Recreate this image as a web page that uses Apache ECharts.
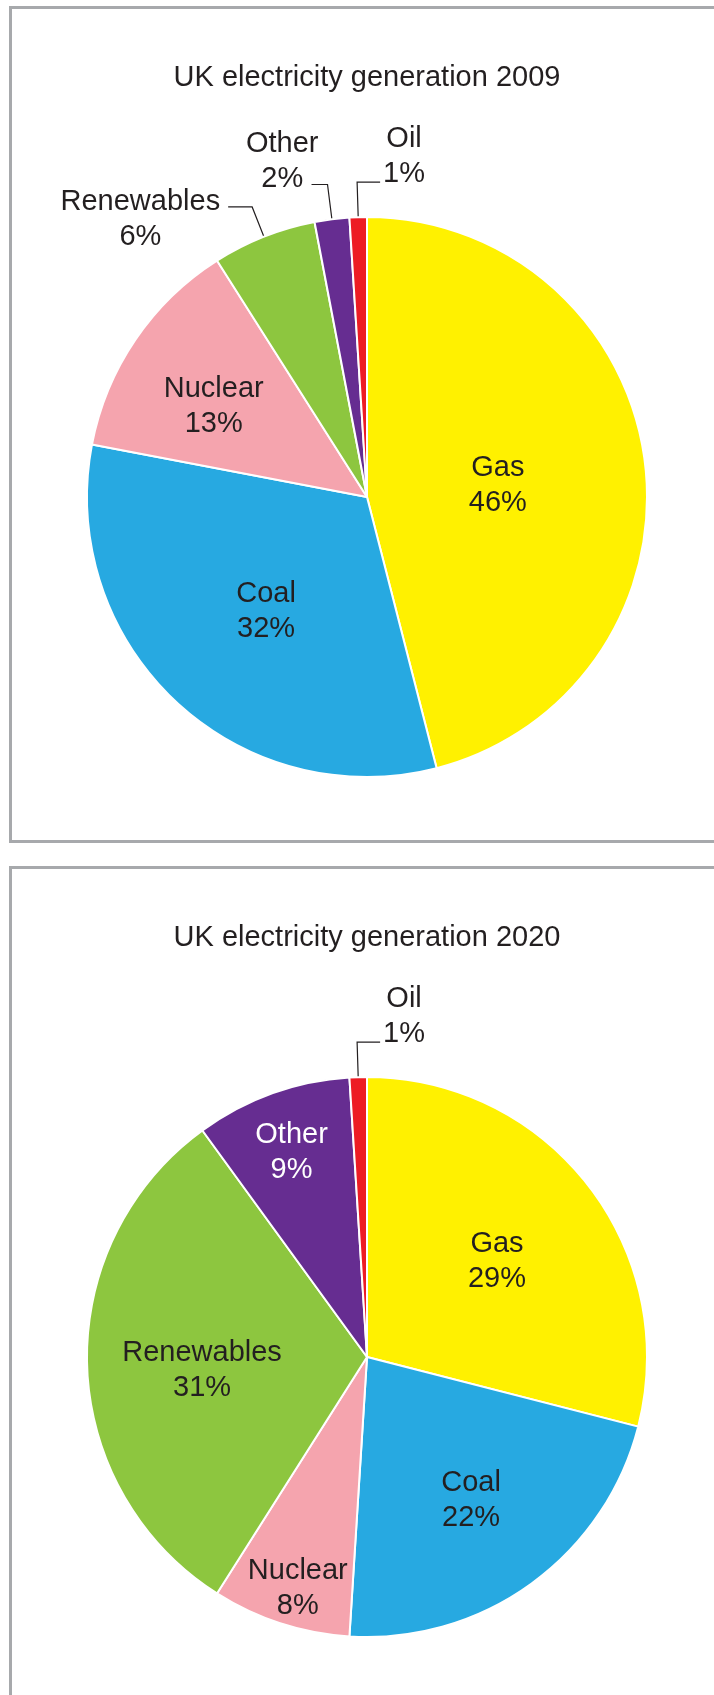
<!DOCTYPE html>
<html><head><meta charset="utf-8">
<script src="https://cdn.jsdelivr.net/npm/echarts@6/dist/echarts.min.js"></script>
<style>
html,body{margin:0;padding:0;background:#fff;overflow:hidden;width:714px;height:1695px;}
.box{position:absolute;border:3px solid #a7a9ac;box-sizing:border-box;}
#b1{left:8.5px;top:6px;width:800px;height:836.5px;}
#b2{left:8.5px;top:866px;width:800px;height:1000px;}
#chart{position:absolute;left:0;top:0;width:714px;height:1695px;}
</style></head><body>
<div class="box" id="b1"></div><div class="box" id="b2"></div>
<div id="chart"></div>
<script>
// ---- data ----
const years = ['2009', '2020'];
const titles = ['UK electricity generation 2009', 'UK electricity generation 2020'];
const sources = ['Gas', 'Coal', 'Nuclear', 'Renewables', 'Other', 'Oil'];
const share2009 = [46, 32, 13, 6, 2, 1];
const share2020 = [29, 22, 8, 31, 9, 1];

// ---- styles ----
const FONT = 'Liberation Sans, Arial, Helvetica, sans-serif';
const INK = '#231f20';
const colors = {Gas:'#fff100', Coal:'#27a9e1', Nuclear:'#f5a4ae', Renewables:'#8dc63f', Other:'#662d91', Oil:'#ed1c24'};
const labelCfg = {
  '2009': {
    Gas:{nudge:[-11, 6.5]}, Coal:{nudge:[-3, 10]}, Nuclear:{nudge:[-35, -10]},
    Renewables:{out:{len:32, len2:24, dist:8}, spacer:'top', sp:25},
    Other:{out:{len:35, len2:16, dist:-7}, spacer:'bottom', sp:45},
    Oil:{out:{len:35, len2:23, dist:3}, spacer:'bottom', sp:39, flip:true}
  },
  '2020': {
    Gas:{nudge:[17, -8]}, Coal:{nudge:[20, 28]}, Nuclear:{nudge:[-25, 95]},
    Renewables:{nudge:[-22, 9]}, Other:{nudge:[-27, -70], white:true},
    Oil:{out:{len:35, len2:23, dist:3}, spacer:'bottom', sp:39, flip:true}
  }
};
const panelCenters = [[367, 497], [367, 1357]];
const panelTitleTop = [63, 923];

const rich = {
  t:{fontFamily:FONT, fontSize:29, lineHeight:35, color:INK, align:'center', textBorderWidth:0},
  w:{fontFamily:FONT, fontSize:29, lineHeight:35, color:'#ffffff', align:'center', textBorderWidth:0},
  s25:{fontSize:8, lineHeight:25, align:'center'},
  s39:{fontSize:8, lineHeight:39, align:'center'},
  s45:{fontSize:8, lineHeight:45, align:'center'}
};

function makeSeries(pi) {
  const year = years[pi];
  const values = pi === 0 ? share2009 : share2020;
  const cfgs = labelCfg[year];
  return {
    type:'pie', center:panelCenters[pi], radius:280, startAngle:90, clockwise:true,
    avoidLabelOverlap:false, animation:false, silent:true,
    itemStyle:{borderColor:'#ffffff', borderWidth:2},
    emphasis:{disabled:true},
    label:{
      show:true, position:'inside', fontFamily:FONT, fontSize:29, color:INK, textBorderWidth:0,
      formatter:function(p){
        const c = cfgs[p.name];
        const k = c.white ? 'w' : 't';
        let s = '{' + k + '|' + p.name + '}\n{' + k + '|' + p.value + '%}';
        if (c.spacer === 'top') s = '{s' + c.sp + '| }\n' + s;
        if (c.spacer === 'bottom') s = s + '\n{s' + c.sp + '| }';
        return s;
      },
      rich:rich
    },
    labelLine:{show:false},
    data: sources.map(function(name, i){
      const c = cfgs[name];
      const item = {name:name, value:values[i], itemStyle:{color:colors[name]}};
      if (c.out) {
        item.label = {position:'outside', distanceToLabelLine:c.out.dist};
        item.labelLine = {show:true, length:c.out.len, length2:c.out.len2, smooth:false,
          lineStyle:{color:INK, width:1.2}};
      }
      return item;
    }),
    labelLayout:function(p){
      const c = cfgs[sources[p.dataIndex]];
      const r = p.labelRect;
      if (c.nudge) {
        return {x:r.x + r.width/2 + c.nudge[0], y:r.y + r.height/2 + c.nudge[1], align:'center', verticalAlign:'middle'};
      }
      if (c.flip && p.labelLinePoints) {
        const pts = p.labelLinePoints;
        const len2 = Math.abs(pts[1][0] - pts[2][0]);
        const end = [pts[1][0] + len2, pts[1][1]];
        return {labelLinePoints:[pts[0], pts[1], end], x:end[0] + c.out.dist, y:r.y + r.height/2, align:'left', verticalAlign:'middle'};
      }
      return {};
    }
  };
}

const chart = echarts.init(document.getElementById('chart'), null, {renderer:'canvas'});
chart.setOption({
  backgroundColor:'transparent',
  animation:false,
  title: titles.map(function(t, i){
    return {text:t, left:367, top:panelTitleTop[i], textAlign:'center', padding:0,
      textStyle:{fontFamily:FONT, fontSize:29, fontWeight:'normal', color:INK}};
  }),
  series:[makeSeries(0), makeSeries(1)]
});
</script>
</body></html>
